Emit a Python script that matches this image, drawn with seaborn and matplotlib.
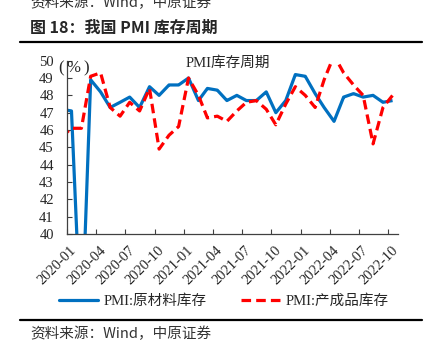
import pandas as pd
import matplotlib
matplotlib.use("Agg")
import matplotlib.pyplot as plt
import matplotlib.dates as mdates
import matplotlib.transforms as mtransforms
import seaborn as sns

# monthly PMI inventory sub-indices, 2019-12 .. 2022-10
months = pd.date_range("2019-12-01", "2022-10-01", freq="MS")
raw_material = [47.2, 47.1, 33.9, 48.9, 48.2, 47.3, 47.6, 47.9, 47.3, 48.5, 48.0, 48.6,
                48.6, 49.0, 47.7, 48.4, 48.3, 47.7, 48.0, 47.7, 47.7, 48.2, 47.0, 47.7,
                49.2, 49.1, 48.1, 47.3, 46.5, 47.9, 48.1, 47.9, 48.0, 47.6, 47.7]
finished_goods = [45.6, 46.1, 46.1, 49.1, 49.3, 47.3, 46.8, 47.6, 47.1, 48.4, 44.9, 45.7,
                  46.2, 49.0, 48.0, 46.7, 46.8, 46.5, 47.1, 47.6, 47.7, 47.2, 46.3, 47.5,
                  48.5, 48.0, 47.3, 48.9, 50.3, 49.3, 48.6, 48.0, 45.2, 47.3, 48.0]
series_names = ["PMI:原材料库存", "PMI:产成品库存"]

# points sit in the middle of each month (Excel date axis style)
df = pd.DataFrame({
    "date": list(months + pd.Timedelta(days=14)) * 2,
    "value": raw_material + finished_goods,
    "series": [series_names[0]] * len(raw_material) + [series_names[1]] * len(finished_goods),
})

sns.set_style("white")
plt.rcParams["font.family"] = ["Liberation Serif", "Noto Sans CJK SC"]
plt.rcParams["axes.unicode_minus"] = False

fig = plt.figure(figsize=(4.3, 3.54), dpi=100)
ax = fig.add_axes([67 / 430, 1 - 234 / 354, 331 / 430, 173.3 / 354])

sns.lineplot(data=df, x="date", y="value", hue="series", style="series",
             palette=["#0070C0", "#FF0000"], dashes=[(1, 0), (3, 1.6)],
             linewidth=2.3, ax=ax, legend=False)

ax.set_xlim(pd.Timestamp("2020-01-01"), pd.Timestamp("2022-11-01"))
ax.set_ylim(40, 50)
ax.set_yticks(range(40, 51))
ax.xaxis.set_major_locator(mdates.MonthLocator(bymonth=[1, 4, 7, 10]))
ax.xaxis.set_major_formatter(mdates.DateFormatter("%Y-%m"))
ax.set_xlabel("")
ax.set_ylabel("")
for s in ["top", "right"]:
    ax.spines[s].set_visible(False)
for s in ["left", "bottom"]:
    ax.spines[s].set_color("#404040")
    ax.spines[s].set_linewidth(0.9)
ax.tick_params(axis="both", direction="in", length=3.5, width=0.8, color="#404040",
               labelsize=10.5)
ax.tick_params(axis="y", left=True, pad=9.5)
ax.tick_params(axis="x", bottom=True, pad=7)
shift = mtransforms.ScaledTranslation(3 / 100, 0, fig.dpi_scale_trans)
for lab in ax.get_xticklabels():
    lab.set_rotation(45)
    lab.set_ha("right")
    lab.set_rotation_mode("anchor")
    lab.set_transform(lab.get_transform() + shift)

fig.text(228 / 430, 1 - 63 / 354, "PMI库存周期", ha="center", va="center", fontsize=10.5)
# unit label, drawn in three pieces to get the wide bracket spacing
fig.text(61 / 430, 1 - 68 / 354, "(", ha="center", va="center", fontsize=12)
fig.text(73.5 / 430, 1 - 68 / 354, "%", ha="center", va="center", fontsize=12)
fig.text(86 / 430, 1 - 68 / 354, ")", ha="center", va="center", fontsize=12)

handles = [plt.Line2D([], [], color="#0070C0", lw=2.3),
           plt.Line2D([], [], color="#FF0000", lw=2.3, dashes=(3, 1.6))]
fig.legend(handles, series_names, loc="center", bbox_to_anchor=(224 / 430, 1 - 301 / 354),
           ncol=2, frameon=False, fontsize=10.5, handlelength=2.7, handletextpad=0.4,
           columnspacing=2.3)

# report header / footer
cjk = ["Noto Sans CJK SC", "DejaVu Sans"]
fig.text(30 / 430, 1 - 3 / 354, "资料来源：Wind，中原证券", family=cjk, fontsize=10.5,
         color="#333333", ha="left", va="center")
fig.text(30 / 430, 1 - 28 / 354, "图 18：我国 PMI 库存周期", family=cjk, fontsize=11.5,
         fontweight="bold", ha="left", va="center")
fig.add_artist(plt.Line2D([20 / 430, 422 / 430], [1 - 42 / 354] * 2, color="black", lw=1.6))
fig.add_artist(plt.Line2D([20 / 430, 422 / 430], [1 - 320 / 354] * 2, color="black", lw=1.6))
fig.text(30 / 430, 1 - 334 / 354, "资料来源：Wind，中原证券", family=cjk, fontsize=10.5,
         color="#333333", ha="left", va="center")

fig.savefig("out.png", dpi=100)
